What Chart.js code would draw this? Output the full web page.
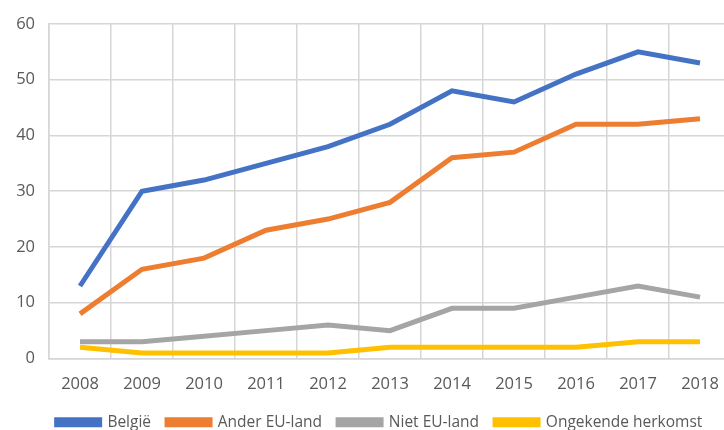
<!DOCTYPE html>
<html><head><meta charset="utf-8">
<script src="https://cdn.jsdelivr.net/npm/chart.js@4/dist/chart.umd.min.js"></script>
<style>
html,body{margin:0;padding:0;background:#fff;overflow:hidden;}
#wrap{width:740px;height:430px;position:relative;}
</style></head>
<body>
<div id="wrap"><canvas id="c"></canvas></div>
<script>
const years = ['2008','2009','2010','2011','2012','2013','2014','2015','2016','2017','2018'];
const belgie = [13,30,32,35,38,42,48,46,51,55,53];
const anderEU = [8,16,18,23,25,28,36,37,42,42,43];
const nietEU = [3,3,4,5,6,5,9,9,11,13,11];
const ongekend = [2,1,1,1,1,2,2,2,2,3,3];
const seriesNames = ['België','Ander EU-land','Niet EU-land','Ongekende herkomst'];
const yTicks = [0,10,20,30,40,50,60];

const colors = ['#4472C4','#ED7D31','#A5A5A5','#FFC000'];
const data = [belgie, anderEU, nietEU, ongekend];
const gridColor = '#d6d6d6';
const textColor = '#595959';
const fontFam = '"Open Sans", sans-serif';

const shiftLegend = {
  id: 'shiftLegend',
  afterLayout(chart) {
    if (chart.legend) { chart.legend.left += 14; chart.legend.right += 14; }
  }
};

new Chart(document.getElementById('c'), {
  type: 'line',
  plugins: [shiftLegend],
  data: {
    labels: years,
    datasets: data.map((d,i)=>({
      label: seriesNames[i],
      data: d,
      borderColor: colors[i],
      backgroundColor: colors[i],
      borderWidth: 5,
      pointRadius: 0,
      tension: 0,
      fill: false
    }))
  },
  options: {
    responsive: true,
    maintainAspectRatio: false,
    animation: false,
    layout: {padding: {top: 15, right: 9, left: 0, bottom: -10}},
    plugins: {
      tooltip: {enabled: false},
      legend: {
        position: 'bottom',
        labels: {
          color: textColor,
          font: {family: fontFam, size: 15.5},
          boxWidth: 43,
          boxHeight: 5,
          padding: 16
        }
      }
    },
    scales: {
      x: {
        offset: true,
        afterFit: s => { s.height = 40; },
        grid: {offset: true, color: gridColor, lineWidth: 1.5, drawTicks: false},
        border: {color: gridColor, width: 1.5},
        ticks: {color: textColor, font: {family: fontFam, size: 16.5}, padding: 16, maxRotation: 0}
      },
      y: {
        min: 0, max: 60,
        afterBuildTicks: s => { s.ticks = yTicks.map(v=>({value:v})); },
        afterFit: s => { s.width = 49; },
        grid: {color: gridColor, lineWidth: 1.5, drawTicks: false},
        border: {color: gridColor, width: 1.5},
        ticks: {color: textColor, font: {family: fontFam, size: 16.5}, padding: 14}
      }
    }
  }
});
</script>
</body></html>
